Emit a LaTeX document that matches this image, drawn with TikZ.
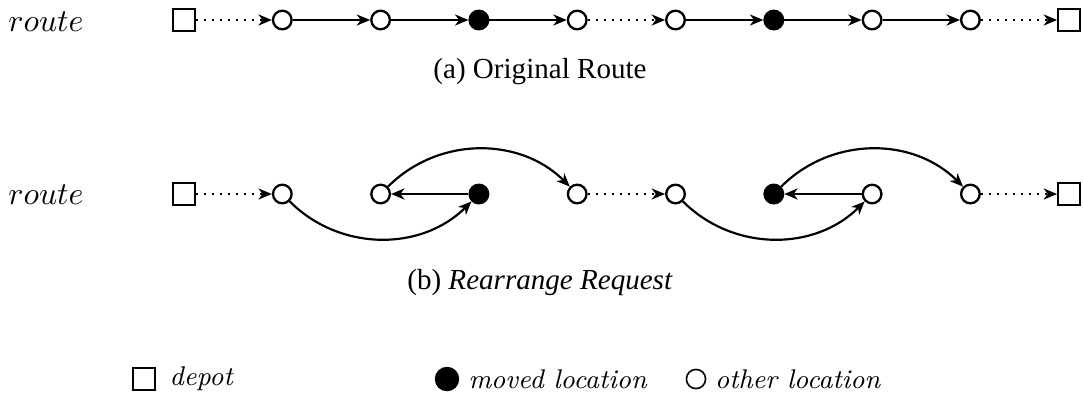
\documentclass[tikz,border=0pt]{standalone}
\usepackage{amsmath,amssymb}
\usepackage{fontspec}
\usepackage{tikz}
\usetikzlibrary{positioning,arrows.meta}
\newfontfamily\capfont{Liberation Serif}
\tikzset{
  loc/.style={circle,draw,fill=white,line width=0.8pt,minimum size=6.4pt,inner sep=0pt},
  moved/.style={circle,draw,fill=black,line width=0.8pt,minimum size=6.4pt,inner sep=0pt},
  depot/.style={rectangle,draw,line width=0.8pt,minimum size=7.4pt,inner sep=0pt},
  go/.style={line width=0.75pt,-{Stealth[length=4.6pt,width=3.8pt,inset=1.4pt]}},
  hop/.style={go,dotted},
  keytext/.style={inner sep=0pt,font=\fontsize{9.3}{11}\selectfont\itshape},
}

\begin{document}
\begin{tikzpicture}[x=0.344pt,y=-0.344pt]
  \useasboundingbox (0,0) rectangle (1083,394);
  % (a) original route
  \node[font=\fontsize{10.6}{12}\selectfont] (ra) at (46,22) {$route$};
  \node[depot] (t0) at (184,20) {};
  \foreach \i/\k in {1/loc,2/loc,3/moved,4/loc,5/loc,6/moved,7/loc,8/loc}
    \node[\k] (t\i) at (184+98.3*\i,20) {};
  \node[depot] (t9) at (1069,20) {};
  \foreach \a/\b/\s in {0/1/hop,1/2/go,2/3/go,3/4/go,4/5/hop,5/6/go,6/7/go,7/8/go,8/9/hop}
    \draw[\s] (t\a) -- (t\b);
  \node[font=\capfont] (capa) at (540,72) {(a) Original Route};

  % (b) rearranged
  \node[font=\fontsize{10.6}{12}\selectfont] (rb) at (46,195) {$route$};
  \node[depot] (b0) at (184,194) {};
  \foreach \i/\k in {1/loc,2/loc,3/moved,4/loc,5/loc,6/moved,7/loc,8/loc}
    \node[\k] (b\i) at (184+98.3*\i,194) {};
  \node[depot] (b9) at (1069,194) {};
  \draw[hop] (b0) -- (b1);
  \draw[go] (b1) to[bend right=45] (b3);
  \draw[go] (b3) -- (b2);
  \draw[go] (b2) to[bend left=45] (b4);
  \draw[hop] (b4) -- (b5);
  \draw[go] (b5) to[bend right=45] (b7);
  \draw[go] (b7) -- (b6);
  \draw[go] (b6) to[bend left=45] (b8);
  \draw[hop] (b8) -- (b9);
  \node[font=\capfont] (capb) at (540,282) {(b) \textit{Rearrange Request}};

  % legend
  \node[depot,minimum size=7.4pt] (kd) at (144,379) {};
  \node[keytext,right=4.5pt of kd] (kdt) {depot};
  \node[moved,minimum size=7.6pt] (km) at (447,379) {};
  \node[keytext,right=3pt of km] (kmt) {moved location};
  \node[loc,line width=0.55pt,minimum size=6.6pt] (ko) at (696,379) {};
  \node[keytext,right=2.8pt of ko] (kot) {other location};
\end{tikzpicture}
\end{document}
